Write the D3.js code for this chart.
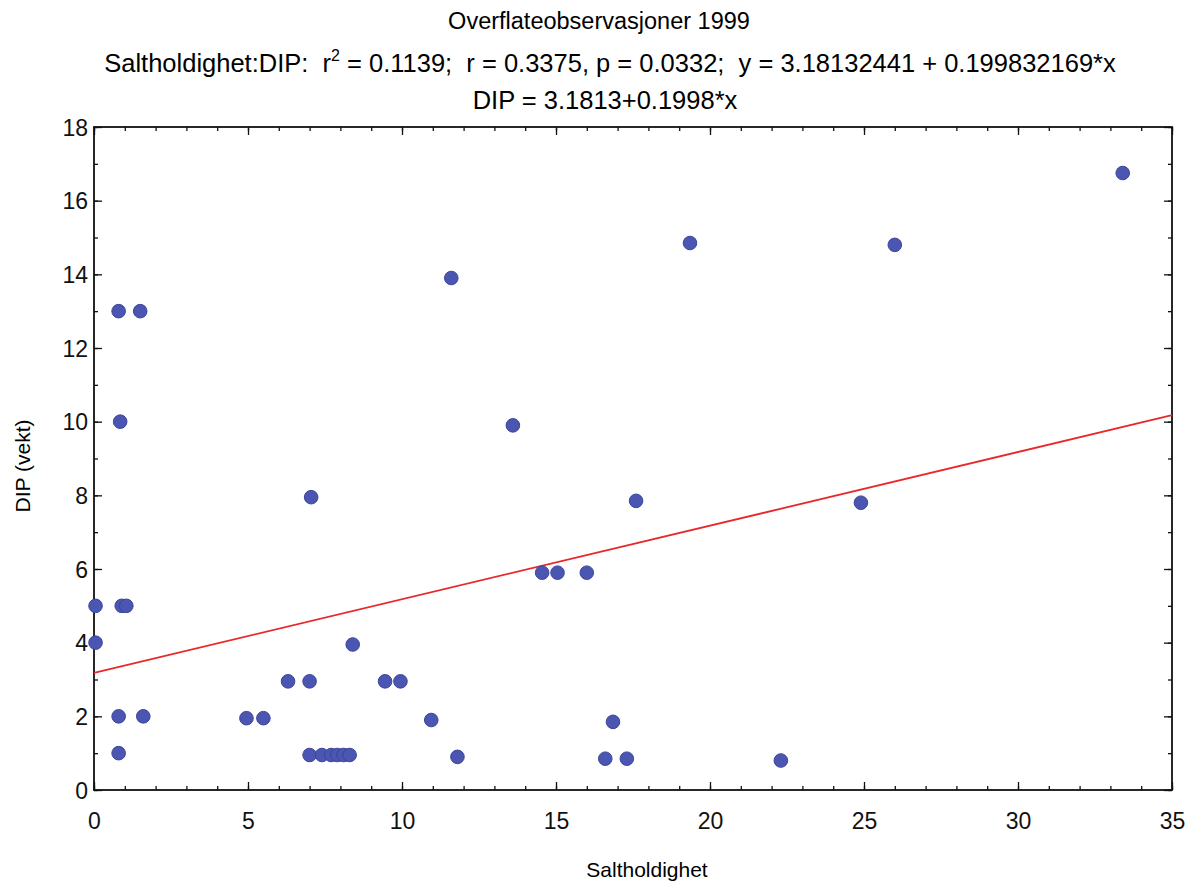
<!DOCTYPE html>
<html>
<head>
<meta charset="utf-8">
<script src="https://cdn.jsdelivr.net/npm/d3@7"></script>
<style>
  body { margin: 0; background: #fff; }
  svg { font-family: "Liberation Sans", Arial, sans-serif; }
  text { white-space: pre; }
</style>
</head>
<body>
<div id="chart"></div>
<script>
// ---------------------------------------------------------------------------
// DATA
// ---------------------------------------------------------------------------
const salt = [
  33.4, 26.0, 19.35, 11.6, 0.8, 1.5, 0.85, 13.6, 7.05, 17.6, 24.9,
  14.55, 15.05, 16.0, 0.05, 0.9, 1.05, 0.05, 8.4, 6.3, 7.0, 9.45, 9.95,
  0.8, 1.6, 4.95, 5.5, 10.95, 16.85, 0.8, 7.0, 7.4, 7.7, 7.9, 8.1, 8.3,
  11.8, 16.6, 17.3, 22.3
];
const dip = [
  16.75, 14.8, 14.85, 13.9, 13.0, 13.0, 10.0, 9.9, 7.95, 7.85, 7.8,
  5.9, 5.9, 5.9, 5.0, 5.0, 5.0, 4.0, 3.95, 2.95, 2.95, 2.95, 2.95,
  2.0, 2.0, 1.95, 1.95, 1.9, 1.85, 1.0, 0.95, 0.95, 0.95, 0.95, 0.95, 0.95,
  0.9, 0.85, 0.85, 0.8
];
const intercept = 3.1813;
const slope = 0.1998;
const xTicks = [0, 5, 10, 15, 20, 25, 30, 35];
const yTicks = [0, 2, 4, 6, 8, 10, 12, 14, 16, 18];
const titleLines = [
  "Overflateobservasjoner 1999",
  ["Saltholdighet:DIP:  r", "2", " = 0.1139;  r = 0.3375, p = 0.0332;  y = 3.18132441 + 0.199832169*x"],
  "DIP = 3.1813+0.1998*x"
];

const points = salt.map((s, i) => ({ x: s, y: dip[i] }));

// ---------------------------------------------------------------------------
// SETUP
// ---------------------------------------------------------------------------
const W = 1198, H = 886;
const margin = { top: 127, right: 26, bottom: 96, left: 94 };
const width  = W - margin.left - margin.right;
const height = H - margin.top - margin.bottom;

const svg = d3.select("#chart").append("svg")
    .attr("width", W)
    .attr("height", H);

const g = svg.append("g")
    .attr("transform", `translate(${margin.left},${margin.top})`);

const x = d3.scaleLinear().domain([0, 35]).range([0, width]);
const y = d3.scaleLinear().domain([0, 18]).range([height, 0]);

// titles
svg.append("text")
    .attr("x", 599).attr("y", 29)
    .attr("text-anchor", "middle")
    .style("font-size", "23.5px")
    .text(titleLines[0]);

const t2 = svg.append("text")
    .attr("x", 610).attr("y", 72)
    .attr("text-anchor", "middle")
    .style("font-size", "25.5px");
t2.append("tspan").text(titleLines[1][0]);
t2.append("tspan").attr("dy", -11).style("font-size", "16px").text(titleLines[1][1]);
t2.append("tspan").attr("dy", 11).text(titleLines[1][2]);

svg.append("text")
    .attr("x", 605).attr("y", 109)
    .attr("text-anchor", "middle")
    .style("font-size", "25.5px")
    .text(titleLines[2]);

// ---------------------------------------------------------------------------
// AXES (ticks inward, minor ticks, mirrored on top/right)
// ---------------------------------------------------------------------------
const minorX = d3.range(0, 36, 1);
const minorY = d3.range(0, 19, 1);

function tickAxis(axisFn, scale, values, size, pad) {
    return axisFn(scale)
        .tickValues(values)
        .tickSizeInner(-size)
        .tickSizeOuter(0)
        .tickPadding(pad || 0)
        .tickFormat(pad ? d3.format("d") : "");
}

// bottom
g.append("g").attr("transform", `translate(0,${height})`)
    .call(tickAxis(d3.axisBottom, x, minorX, 4));
g.append("g").attr("class", "xmaj").attr("transform", `translate(0,${height})`)
    .call(tickAxis(d3.axisBottom, x, xTicks, 8, 23));
// top
g.append("g").call(tickAxis(d3.axisTop, x, minorX, 4));
g.append("g").call(tickAxis(d3.axisTop, x, xTicks, 8));
// left
g.append("g").call(tickAxis(d3.axisLeft, y, minorY, 4));
g.append("g").attr("class", "ymaj")
    .call(tickAxis(d3.axisLeft, y, yTicks, 8, 4));
// right
g.append("g").attr("transform", `translate(${width},0)`)
    .call(tickAxis(d3.axisRight, y, minorY, 4));
g.append("g").attr("transform", `translate(${width},0)`)
    .call(tickAxis(d3.axisRight, y, yTicks, 8));

g.selectAll(".domain").remove();
g.selectAll(".tick line").attr("stroke", "#111").attr("stroke-width", 1.3);
g.selectAll(".tick text")
    .attr("fill", "#111")
    .style("font-size", "23px");
g.selectAll(".ymaj .tick text").attr("x", -6).attr("dy", "0.35em");

// frame
g.append("rect")
    .attr("width", width).attr("height", height)
    .attr("fill", "none")
    .attr("stroke", "#111")
    .attr("stroke-width", 1.8);

// axis labels
svg.append("text")
    .attr("x", 647)
    .attr("y", 877)
    .attr("text-anchor", "middle")
    .style("font-size", "21px")
    .text("Saltholdighet");

svg.append("text")
    .attr("transform", "rotate(-90)")
    .attr("x", -466)
    .attr("y", 30)
    .attr("text-anchor", "middle")
    .style("font-size", "21px")
    .text("DIP (vekt)");

// ---------------------------------------------------------------------------
// MARKS
// ---------------------------------------------------------------------------
g.append("line")
    .attr("x1", x(0)).attr("y1", y(intercept))
    .attr("x2", x(35)).attr("y2", y(intercept + slope * 35))
    .attr("stroke", "#e8282a")
    .attr("stroke-width", 1.8);

g.selectAll("circle.pt")
    .data(points)
    .join("circle")
    .attr("class", "pt")
    .attr("cx", d => x(d.x))
    .attr("cy", d => y(d.y))
    .attr("r", 6.8)
    .attr("fill", "#4a56b2")
    .attr("stroke", "#3b4599")
    .attr("stroke-width", 1);
</script>
</body>
</html>
